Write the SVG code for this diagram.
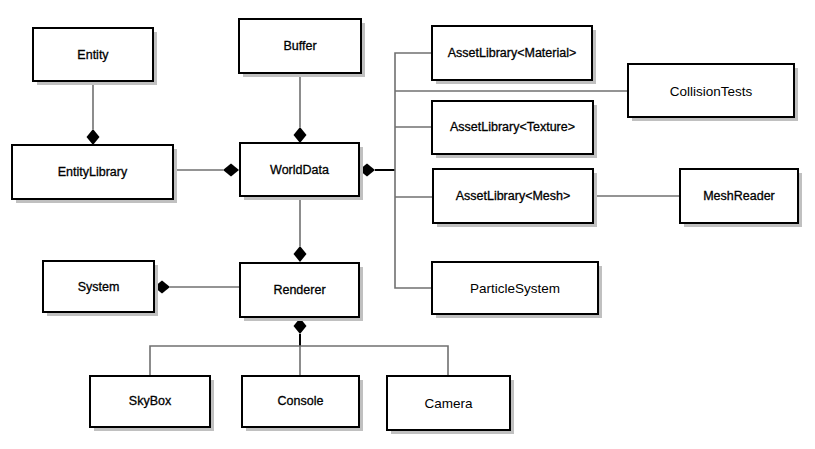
<svg xmlns="http://www.w3.org/2000/svg" width="815" height="449" viewBox="0 0 815 449">
<style>
.box{fill:#fff;stroke:#000;stroke-width:2}
.sh{fill:#c0c0c0}
.t{font-family:"Liberation Sans",Arial,sans-serif;font-size:12.5px;fill:#000;text-anchor:middle;dominant-baseline:central}
.n{font-size:13.5px}
.b{stroke:#000;stroke-width:0.3}
.c{fill:none;stroke:#707070;stroke-width:1.6}
.d{fill:none;stroke:#000;stroke-width:2}
.dia{fill:#000}
</style>
<defs>
<path id="dv" d="M0,-8 L6.5,0 L0,8 L-6.5,0 Z"/>
<path id="dh" d="M-8,0 L0,-6.5 L8,0 L0,6.5 Z"/>
</defs>
<rect width="815" height="449" fill="#fff"/>
<g id="connectors">
<path class="c" d="M93,81 V129"/>
<path class="c" d="M300,73 V127"/>
<path class="c" d="M173,170 H223"/>
<path class="d" d="M375,170 H395"/>
<path class="c" d="M432,53 H395 V288 H432"/>
<path class="c" d="M395,91 H628"/>
<path class="c" d="M395,127 H432"/>
<path class="c" d="M395,197 H433"/>
<path class="c" d="M593,196 H680"/>
<path class="c" d="M300,196 V246"/>
<path class="c" d="M170,287 H240"/>
<path class="d" d="M300,334 V346"/>
<path class="c" d="M150,376 V346 H448 V376"/>
<path class="c" d="M300,346 V376"/>
<use class="dia" href="#dv" x="93" y="137"/>
<use class="dia" href="#dv" x="300" y="135"/>
<use class="dia" href="#dh" x="231" y="170"/>
<use class="dia" href="#dh" x="367" y="170"/>
<use class="dia" href="#dv" x="300" y="254"/>
<use class="dia" href="#dh" x="162" y="287"/>
<use class="dia" href="#dv" x="300" y="326"/>
</g>
<g id="Entity"><rect class="sh" x="37" y="32" width="120" height="53"/><rect class="box" x="33" y="28" width="120" height="53"/><text class="t b" x="93" y="55">Entity</text></g>
<g id="Buffer"><rect class="sh" x="243" y="23" width="122" height="54"/><rect class="box" x="239" y="19" width="122" height="54"/><text class="t b" x="300" y="46">Buffer</text></g>
<g id="EntityLibrary"><rect class="sh" x="16" y="149" width="161" height="54"/><rect class="box" x="12" y="145" width="161" height="54"/><text class="t b" x="92.5" y="172">EntityLibrary</text></g>
<g id="WorldData"><rect class="sh" x="244" y="147" width="119" height="53"/><rect class="box" x="240" y="143" width="119" height="53"/><text class="t b" x="299.5" y="170">WorldData</text></g>
<g id="AssetLibraryMaterial"><rect class="sh" x="436" y="30" width="160" height="54"/><rect class="box" x="432" y="26" width="160" height="54"/><text class="t b" x="512" y="53">AssetLibrary&lt;Material&gt;</text></g>
<g id="CollisionTests"><rect class="sh" x="632" y="68" width="166" height="53"/><rect class="box" x="628" y="64" width="166" height="53"/><text class="t n" x="711" y="91">CollisionTests</text></g>
<g id="AssetLibraryTexture"><rect class="sh" x="436" y="105" width="161" height="53"/><rect class="box" x="432" y="101" width="161" height="53"/><text class="t b" x="512.5" y="127">AssetLibrary&lt;Texture&gt;</text></g>
<g id="AssetLibraryMesh"><rect class="sh" x="437" y="173" width="160" height="54"/><rect class="box" x="433" y="169" width="160" height="54"/><text class="t b" x="513" y="196">AssetLibrary&lt;Mesh&gt;</text></g>
<g id="MeshReader"><rect class="sh" x="684" y="173" width="118" height="54"/><rect class="box" x="680" y="169" width="118" height="54"/><text class="t b" x="739" y="196">MeshReader</text></g>
<g id="ParticleSystem"><rect class="sh" x="436" y="266" width="166" height="52"/><rect class="box" x="432" y="262" width="166" height="52"/><text class="t n" x="515" y="288">ParticleSystem</text></g>
<g id="System"><rect class="sh" x="47" y="265" width="111" height="51"/><rect class="box" x="43" y="261" width="111" height="51"/><text class="t b" x="98.5" y="287">System</text></g>
<g id="Renderer"><rect class="sh" x="244" y="267" width="119" height="54"/><rect class="box" x="240" y="263" width="119" height="54"/><text class="t b" x="299.5" y="290">Renderer</text></g>
<g id="SkyBox"><rect class="sh" x="94" y="380" width="120" height="51"/><rect class="box" x="90" y="376" width="120" height="51"/><text class="t b" x="150" y="401">SkyBox</text></g>
<g id="Console"><rect class="sh" x="246" y="380" width="117" height="51"/><rect class="box" x="242" y="376" width="117" height="51"/><text class="t b" x="300.5" y="401">Console</text></g>
<g id="Camera"><rect class="sh" x="391" y="380" width="123" height="54"/><rect class="box" x="387" y="376" width="123" height="54"/><text class="t n" x="448.5" y="403">Camera</text></g>
</svg>
